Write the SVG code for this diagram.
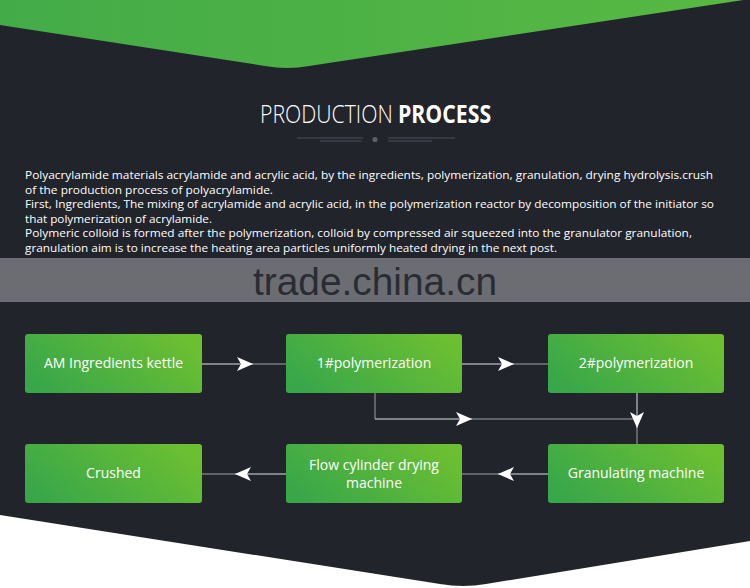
<svg xmlns="http://www.w3.org/2000/svg" width="750" height="588" viewBox="0 0 750 588">
  <defs>
    <linearGradient id="boxg" x1="0" y1="0.7" x2="1" y2="0.3">
      <stop offset="0" stop-color="#38a74a"/>
      <stop offset="1" stop-color="#6cbf31"/>
    </linearGradient>
    <linearGradient id="topg" x1="0" y1="0" x2="1" y2="0">
      <stop offset="0" stop-color="#43ab48"/>
      <stop offset="1" stop-color="#58b942"/>
    </linearGradient>
    <marker id="arr" viewBox="0 0 16 14" refX="16" refY="7" markerWidth="16" markerHeight="14" markerUnits="userSpaceOnUse" orient="auto">
      <path d="M0,0 L16,7 L0,14 L4,7 Z" fill="#ffffff"/>
    </marker>
  </defs>
  <style>
    .box { fill: url(#boxg); }
    .lbl { font-family: "Open Sans", "Liberation Sans", sans-serif; font-size: 14px; fill: #ffffff; text-anchor: middle; }
    .para { font-family: "Open Sans", "Liberation Sans", sans-serif; font-size: 11.5px; fill: #ffffff; }
    .ttl { font-family: "Open Sans", "Liberation Sans", sans-serif; font-size: 25px; fill: #ffffff; }
    .con { stroke: #9fa1a8; stroke-width: 1; fill: none; }
    .deco { stroke: #4b4f5b; stroke-width: 1.2; }
  </style>

  <rect x="0" y="0" width="750" height="588" fill="#22242c"/>
  <path d="M0,0 L0,25 L265,66 Q287,70 309,66 L750,-1 Z" fill="url(#topg)"/>
  <path d="M0,515 L440,584 Q463,588 486,584 L750,541 L750,588 L0,588 Z" fill="#ffffff"/>

  <g id="title">
    <text class="ttl" transform="translate(260,123) scale(0.85,1)" font-weight="300">PRODUCTION</text>
    <text class="ttl" transform="translate(398,123) scale(0.85,1)" font-weight="700">PROCESS</text>
    <line class="deco" x1="297" y1="138" x2="363" y2="138"/>
    <line class="deco" x1="320" y1="141" x2="362" y2="141"/>
    <line class="deco" x1="388" y1="138" x2="455" y2="138"/>
    <line class="deco" x1="388" y1="141" x2="432" y2="141"/>
    <circle cx="375" cy="139.5" r="2.6" fill="#5a5e6a"/>
  </g>

  <g id="description">
    <text class="para" x="25" y="179" textLength="688" lengthAdjust="spacingAndGlyphs">Polyacrylamide materials acrylamide and acrylic acid, by the ingredients, polymerization, granulation, drying hydrolysis.crush</text>
    <text class="para" x="25" y="193.5" textLength="248" lengthAdjust="spacingAndGlyphs">of the production process of polyacrylamide.</text>
    <text class="para" x="25" y="208" textLength="689" lengthAdjust="spacingAndGlyphs">First, Ingredients, The mixing of acrylamide and acrylic acid, in the polymerization reactor by decomposition of the initiator so</text>
    <text class="para" x="25" y="222.5" textLength="187" lengthAdjust="spacingAndGlyphs">that polymerization of acrylamide.</text>
    <text class="para" x="25" y="237" textLength="667" lengthAdjust="spacingAndGlyphs">Polymeric colloid is formed after the polymerization, colloid by compressed air squeezed into the granulator granulation,</text>
    <text class="para" x="25" y="251.5" textLength="532" lengthAdjust="spacingAndGlyphs">granulation aim is to increase the heating area particles uniformly heated drying in the next post.</text>
  </g>

  <g id="watermark">
    <rect x="0" y="258" width="750" height="44" fill="#6b6d73"/>
    <text x="253" y="295" font-family="'Liberation Sans', Arial, sans-serif" font-size="38" fill="#2a2c33" textLength="244" lengthAdjust="spacingAndGlyphs">trade.china.cn</text>
  </g>

  <g id="connectors">
    <line class="con" x1="202" y1="364" x2="286" y2="364"/>
    <line class="con" x1="202" y1="364" x2="253" y2="364" marker-end="url(#arr)"/>
    <line class="con" x1="462" y1="364" x2="548" y2="364"/>
    <line class="con" x1="462" y1="364" x2="514" y2="364" marker-end="url(#arr)"/>
    <polyline class="con" points="375,393 375,419 637,419"/>
    <line class="con" x1="375" y1="419" x2="472" y2="419" marker-end="url(#arr)"/>
    <line class="con" x1="637" y1="393" x2="637" y2="444"/>
    <line class="con" x1="637" y1="393" x2="637" y2="428" marker-end="url(#arr)"/>
    <line class="con" x1="548" y1="474" x2="462" y2="474"/>
    <line class="con" x1="548" y1="474" x2="498" y2="474" marker-end="url(#arr)"/>
    <line class="con" x1="286" y1="474" x2="202" y2="474"/>
    <line class="con" x1="286" y1="474" x2="235" y2="474" marker-end="url(#arr)"/>
  </g>

  <g id="node-am">
    <rect class="box" x="25" y="334" width="177" height="59" rx="3"/>
    <text class="lbl" x="113.5" y="368">AM Ingredients kettle</text>
  </g>
  <g id="node-p1">
    <rect class="box" x="286" y="334" width="176" height="59" rx="3"/>
    <text class="lbl" x="374" y="368">1#polymerization</text>
  </g>
  <g id="node-p2">
    <rect class="box" x="548" y="334" width="176" height="59" rx="3"/>
    <text class="lbl" x="636" y="368">2#polymerization</text>
  </g>
  <g id="node-gran">
    <rect class="box" x="548" y="444" width="176" height="59" rx="3"/>
    <text class="lbl" x="636" y="478">Granulating machine</text>
  </g>
  <g id="node-flow">
    <rect class="box" x="286" y="444" width="176" height="59" rx="3"/>
    <text class="lbl" x="374" y="469.5" font-size="13.3">Flow cylinder drying</text>
    <text class="lbl" x="374" y="487.5" font-size="13.3">machine</text>
  </g>
  <g id="node-crushed">
    <rect class="box" x="25" y="444" width="177" height="59" rx="3"/>
    <text class="lbl" x="113.5" y="478">Crushed</text>
  </g>
</svg>
